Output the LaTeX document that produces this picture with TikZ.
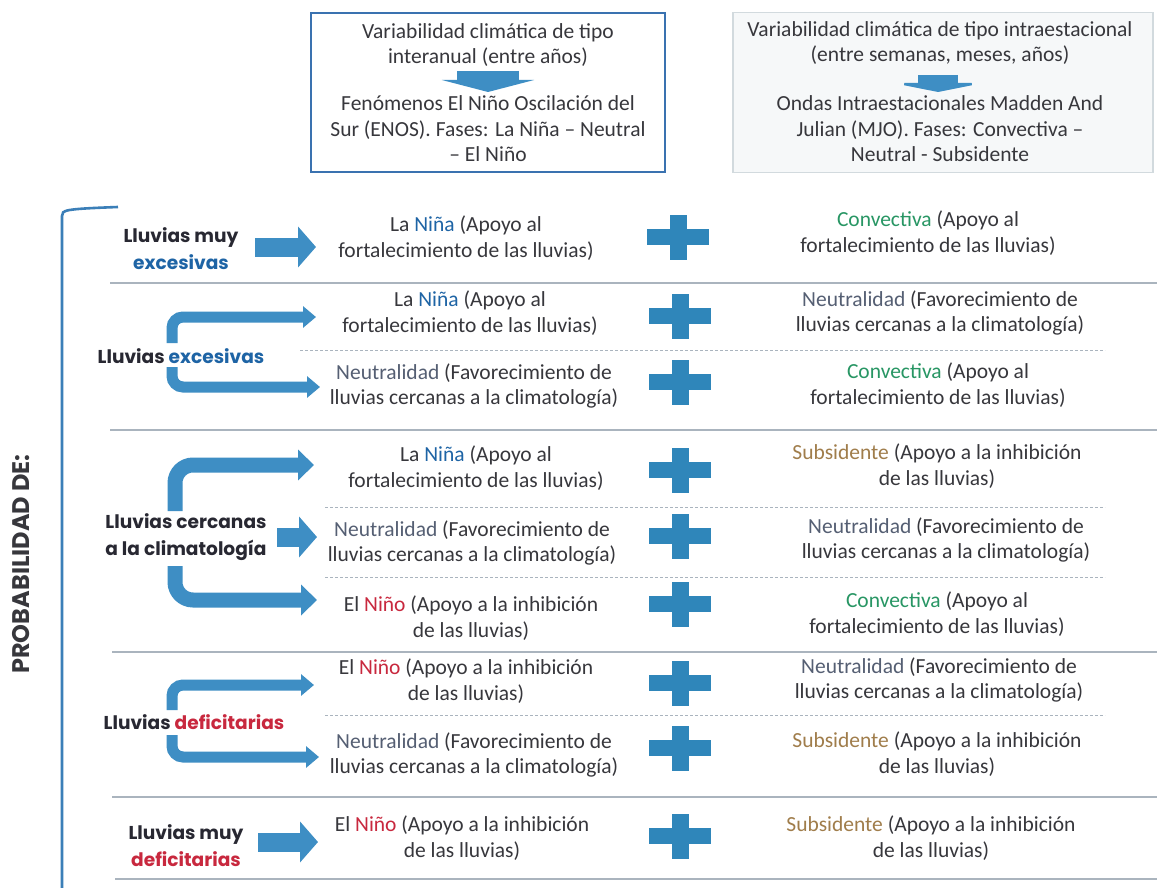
\documentclass[tikz,border=0pt]{standalone}
\usepackage{fontspec}
\setmainfont{Carlito}
\newfontfamily\labfont{Poppins}
\usetikzlibrary{arrows.meta}
\definecolor{txt}{RGB}{55,55,60}
\definecolor{labdark}{RGB}{40,40,50}
\definecolor{nina}{RGB}{30,100,165}
\definecolor{nino}{RGB}{200,40,62}
\definecolor{conv}{RGB}{40,150,100}
\definecolor{subs}{RGB}{160,125,75}
\definecolor{neut}{RGB}{85,95,115}
\definecolor{arrowblue}{RGB}{62,142,196}
\definecolor{plusblue}{RGB}{47,134,186}
\definecolor{boxblue}{RGB}{58,114,176}
\definecolor{boxgray}{RGB}{210,218,222}
\definecolor{boxfill}{RGB}{246,248,249}
\definecolor{sepgray}{RGB}{170,180,190}
\definecolor{bracketblue}{RGB}{59,127,184}
\begin{document}
\begin{tikzpicture}[x=1pt,y=-1pt,
  txtnode/.style={align=center, font=\fontsize{21.5}{25.5}\selectfont, text=txt, inner sep=0pt},
  lab/.style={align=center, font=\labfont\bfseries\fontsize{18.6}{27}\selectfont, text=labdark, inner sep=0pt},
  fatarrow/.style={draw=arrowblue, line width=19pt, -{Triangle[length=18pt,width=40pt]}},
  thinbent/.style={draw=arrowblue, line width=11pt, rounded corners=11pt, -{Triangle[length=13pt,width=21pt]}},
  thickbent/.style={draw=arrowblue, line width=15pt, rounded corners=18pt, -{Triangle[length=16pt,width=30pt]}},
  sepline/.style={draw=sepgray, line width=1.1pt},
  dashline/.style={draw=sepgray, line width=1pt, dash pattern=on 3pt off 2pt},
  plus/.pic={\fill[plusblue] (-31,-8) rectangle (31,8); \fill[plusblue] (-8.5,-22.5) rectangle (8.5,22.5);}
]
\useasboundingbox (0,0) rectangle (1157,888);
\fill[white] (0,0) rectangle (1157,888);

% top boxes
\node[draw=boxblue, line width=1.8pt, fill=white, minimum width=354pt, minimum height=159pt, inner sep=0pt] (box1) at (488,92.5) {};
\node[draw=boxgray, line width=1.2pt, fill=boxfill, minimum width=420pt, minimum height=160pt, inner sep=0pt] (box2) at (943,92.5) {};
\node[txtnode] (b1t) at (488,45) {Variabilidad climática de tipo\\interanual (entre años)};
\node[txtnode] (b1b) at (488,129) {Fenómenos El Niño Oscilación del\\Sur (ENOS). Fases: La Niña -- Neutral\\-- El Niño};
\node[txtnode] (b2t) at (940,43) {Variabilidad climática de tipo intraestacional\\(entre semanas, meses, años)};
\node[txtnode] (b2b) at (940,129) {Ondas Intraestacionales Madden And\\Julian (MJO). Fases: Convectiva --\\Neutral - Subsidente};
\coordinate (d1s) at (488,71); \coordinate (d1e) at (488,92);
\coordinate (d2s) at (938,75); \coordinate (d2e) at (938,92);
\draw[draw=arrowblue, line width=62pt, -{Triangle[length=12pt,width=92pt]}] (d1s) -- (d1e);
\draw[draw=arrowblue, line width=40pt, -{Triangle[length=9pt,width=90pt]}] (d2s) -- (d2e);

% left bracket and title
\draw[draw=bracketblue, line width=2.6pt] (62,888) -- (62,216) .. controls (62,210) and (64,209) .. (118,207);
\node[rotate=90, font=\labfont\bfseries\fontsize{24}{27}\selectfont, text=txt, inner sep=0pt] (prob) at (21,564) {PROBABILIDAD DE:};

% separators
\draw[sepline] (110,283) -- (1157,283);
\draw[sepline] (110,430) -- (1157,430);
\draw[sepline] (112,652) -- (1157,652);
\draw[sepline] (112,797) -- (1157,797);
\draw[sepline] (115,879) -- (1157,879);
\draw[dashline] (300,350) -- (1105,350);
\draw[dashline] (325,507) -- (1105,507);
\draw[dashline] (325,577) -- (1105,577);
\draw[dashline] (325,715) -- (1105,715);

% row labels
\node[lab] (l1) at (181,249) {Lluvias muy\\\textcolor{nina}{excesivas}};
\node[lab] (l2) at (181,356) {Lluvias \textcolor{nina}{excesivas}};
\node[lab] (l3) at (186,537) {Lluvias cercanas\\a la climatología};
\node[lab] (l4) at (194,722) {Lluvias \textcolor{nino}{deficitarias}};
\node[lab] (l5) at (186,846) {Lluvias muy\\\textcolor{nino}{deficitarias}};

% left texts
\node[txtnode] (r1L) at (466,238) {La \textcolor{nina}{Niña} (Apoyo al\\fortalecimiento de las lluvias)};
\node[txtnode] (r2aL) at (470,313) {La \textcolor{nina}{Niña} (Apoyo al\\fortalecimiento de las lluvias)};
\node[txtnode] (r2bL) at (474,386) {\textcolor{neut}{Neutralidad} (Favorecimiento de\\lluvias cercanas a la climatología)};
\node[txtnode] (r3aL) at (476,468) {La \textcolor{nina}{Niña} (Apoyo al\\fortalecimiento de las lluvias)};
\node[txtnode] (r3bL) at (472,543) {\textcolor{neut}{Neutralidad} (Favorecimiento de\\lluvias cercanas a la climatología)};
\node[txtnode] (r3cL) at (471,618) {El \textcolor{nino}{Niño} (Apoyo a la inhibición\\de las lluvias)};
\node[txtnode] (r4aL) at (466,681) {El \textcolor{nino}{Niño} (Apoyo a la inhibición\\de las lluvias)};
\node[txtnode] (r4bL) at (474,755) {\textcolor{neut}{Neutralidad} (Favorecimiento de\\lluvias cercanas a la climatología)};
\node[txtnode] (r5L) at (462,838) {El \textcolor{nino}{Niño} (Apoyo a la inhibición\\de las lluvias)};

% right texts
\node[txtnode] (r1R) at (928,233) {\textcolor{conv}{Convectiva} (Apoyo al\\fortalecimiento de las lluvias)};
\node[txtnode] (r2aR) at (940,313) {\textcolor{neut}{Neutralidad} (Favorecimiento de\\lluvias cercanas a la climatología)};
\node[txtnode] (r2bR) at (938,385) {\textcolor{conv}{Convectiva} (Apoyo al\\fortalecimiento de las lluvias)};
\node[txtnode] (r3aR) at (937,466) {\textcolor{subs}{Subsidente} (Apoyo a la inhibición\\de las lluvias)};
\node[txtnode] (r3bR) at (946,540) {\textcolor{neut}{Neutralidad} (Favorecimiento de\\lluvias cercanas a la climatología)};
\node[txtnode] (r3cR) at (937,614) {\textcolor{conv}{Convectiva} (Apoyo al\\fortalecimiento de las lluvias)};
\node[txtnode] (r4aR) at (939,680) {\textcolor{neut}{Neutralidad} (Favorecimiento de\\lluvias cercanas a la climatología)};
\node[txtnode] (r4bR) at (937,754) {\textcolor{subs}{Subsidente} (Apoyo a la inhibición\\de las lluvias)};
\node[txtnode] (r5R) at (931,838) {\textcolor{subs}{Subsidente} (Apoyo a la inhibición\\de las lluvias)};

% plus signs
\pic at (678,237) {plus};
\pic at (680,316) {plus};
\pic at (680,382) {plus};
\pic at (680,470) {plus};
\pic at (680,536) {plus};
\pic at (680,604) {plus};
\pic at (680,683) {plus};
\pic at (680,748) {plus};
\pic at (680,836) {plus};

% arrows
\coordinate (a1s) at (255,247); \coordinate (a1e) at (316,247);
\draw[fatarrow] (a1s) -- (a1e);
\coordinate (a2as) at (172,343); \coordinate (a2ae) at (316,317);
\draw[thinbent] (a2as) |- (a2ae);
\coordinate (a2bs) at (172,367); \coordinate (a2be) at (320,387);
\draw[thinbent] (a2bs) |- (a2be);
\coordinate (a3as) at (175,511); \coordinate (a3ae) at (314,465);
\draw[thickbent] (a3as) |- (a3ae);
\coordinate (a3bs) at (277,537); \coordinate (a3be) at (317,537);
\draw[fatarrow] (a3bs) -- (a3be);
\coordinate (a3cs) at (175,566); \coordinate (a3ce) at (317,600);
\draw[thickbent] (a3cs) |- (a3ce);
\coordinate (a4as) at (172,710); \coordinate (a4ae) at (314,685);
\draw[thinbent] (a4as) |- (a4ae);
\coordinate (a4bs) at (172,735); \coordinate (a4be) at (319,757);
\draw[thinbent] (a4bs) |- (a4be);
\coordinate (a5s) at (258,842); \coordinate (a5e) at (318,842);
\draw[fatarrow] (a5s) -- (a5e);
\end{tikzpicture}
\end{document}
